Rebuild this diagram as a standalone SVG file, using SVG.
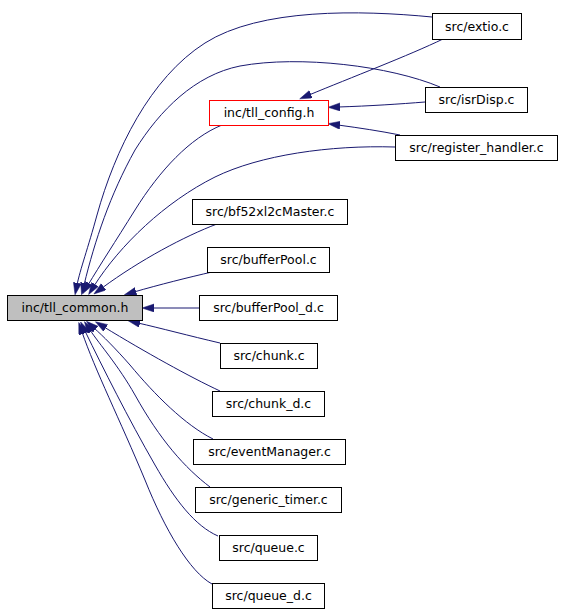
<svg xmlns="http://www.w3.org/2000/svg" width="562" height="611" viewBox="0 0 562 611">
<style>
.n rect{fill:#ffffff;stroke:#000000;stroke-width:1}
.n text{font-family:"DejaVu Sans","Liberation Sans",sans-serif;font-size:12.5px;fill:#000000;text-anchor:middle}
#edges path{fill:none;stroke:#191970;stroke-width:1;marker-end:url(#ah)}
</style>
<defs>
<marker id="ah" markerWidth="13" markerHeight="9" refX="2" refY="4" orient="auto" markerUnits="userSpaceOnUse">
<path d="M0,0 L12,4 L0,8 z" fill="#191970" stroke="#191970" stroke-width="0.5"/>
</marker>
</defs>
<rect width="562" height="611" fill="#ffffff"/>
<g id="edges">
<path d="M432,17 C360,10 260,8 205,43 C150,78 115,150 97,215 C88,248 80,270 77,285"/>
<path d="M440,87 C390,66 300,55 240,66 C195,75 160,110 135,150 C110,195 95,240 84,285"/>
<path d="M222,125 C190,138 160,170 135,210 C115,242 100,265 88,285"/>
<path d="M395,147 C330,145 260,155 215,177 C165,202 120,245 94,286"/>
<path d="M217,224 C185,236 140,260 102,288"/>
<path d="M212,272 C190,277 158,285 134,292"/>
<path d="M199,308 L152,308"/>
<path d="M220,343 C190,336 160,328 138,323"/>
<path d="M220,391 C190,377 145,352 104,327"/>
<path d="M213,439 C185,425 155,395 130,365 C115,348 103,336 94,328"/>
<path d="M210,487 C185,468 160,440 135,395 C118,365 100,345 90,330"/>
<path d="M218,536 C195,526 175,500 155,465 C128,418 103,368 85,331"/>
<path d="M212,584 C190,572 165,530 145,480 C120,420 95,370 82,332"/>
<path d="M443,39 C410,55 350,78 309,95"/>
<path d="M425,102 C400,104 370,106 338,107"/>
<path d="M400,135 C380,131 360,128 338,125"/>
</g>
<g id="n_common" class="n"><rect x="7.5" y="295.5" width="135" height="25" style="fill:#bfbfbf"/><text x="75" y="312">inc/tll_common.h</text></g>
<g id="n_config" class="n"><rect x="209.5" y="100.5" width="119" height="25" style="stroke:#ff0000"/><text x="269" y="117">inc/tll_config.h</text></g>
<g id="n_extio" class="n"><rect x="432.5" y="13.5" width="89" height="26"/><text x="477" y="31">src/extio.c</text></g>
<g id="n_isrdisp" class="n"><rect x="425.5" y="87.5" width="102" height="25"/><text x="476.5" y="104">src/isrDisp.c</text></g>
<g id="n_reghandler" class="n"><rect x="395.5" y="135.5" width="162" height="25"/><text x="476.5" y="152">src/register_handler.c</text></g>
<g id="n_bf52" class="n"><rect x="192.5" y="199.5" width="155" height="25"/><text x="270" y="216">src/bf52xl2cMaster.c</text></g>
<g id="n_bufferpool" class="n"><rect x="207.5" y="247.5" width="122" height="25"/><text x="268.5" y="264">src/bufferPool.c</text></g>
<g id="n_bufferpool_d" class="n"><rect x="199.5" y="295.5" width="138" height="25"/><text x="268.5" y="312">src/bufferPool_d.c</text></g>
<g id="n_chunk" class="n"><rect x="220.5" y="343.5" width="97" height="25"/><text x="269" y="360">src/chunk.c</text></g>
<g id="n_chunk_d" class="n"><rect x="212.5" y="391.5" width="112" height="25"/><text x="268.5" y="408">src/chunk_d.c</text></g>
<g id="n_eventmanager" class="n"><rect x="193.5" y="439.5" width="152" height="25"/><text x="269.5" y="456">src/eventManager.c</text></g>
<g id="n_generic_timer" class="n"><rect x="195.5" y="487.5" width="146" height="25"/><text x="268.5" y="504">src/generic_timer.c</text></g>
<g id="n_queue" class="n"><rect x="219.5" y="535.5" width="98" height="25"/><text x="268.5" y="552">src/queue.c</text></g>
<g id="n_queue_d" class="n"><rect x="212.5" y="583.5" width="112" height="25"/><text x="268.5" y="600">src/queue_d.c</text></g>
</svg>
